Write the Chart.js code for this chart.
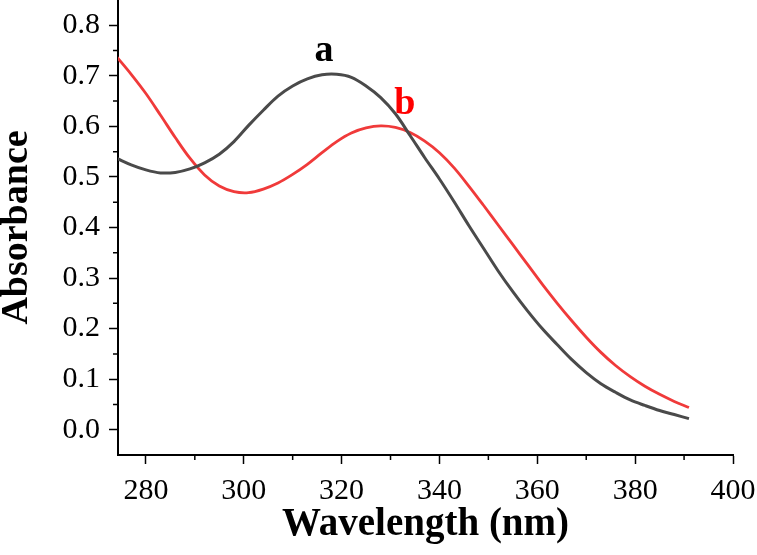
<!DOCTYPE html>
<html>
<head>
<meta charset="utf-8">
<script src="https://cdn.jsdelivr.net/npm/chart.js@4.4.1/dist/chart.umd.min.js"></script>
<style>
    html, body { margin: 0; padding: 0; background: #ffffff; }
    #wrap { width: 757px; height: 555px; position: relative; }
</style>
</head>
<body>
<div id="wrap"><canvas id="spectrumChart"></canvas></div>
<script>
// Wavelength (nm) and absorbance
const wavelengths = [274, 277, 280, 283, 286, 289, 292, 295, 298, 301, 304, 307, 310, 313, 316, 319,
    322, 325, 328, 331, 334, 337, 340, 343, 346, 349, 352, 355, 358, 361, 364, 367, 370, 373, 376,
    379, 382, 385, 388, 391];
const absorbanceA = [0.537, 0.524, 0.514, 0.508, 0.509, 0.516, 0.528, 0.545, 0.570, 0.602, 0.632,
    0.660, 0.680, 0.694, 0.702, 0.703, 0.697, 0.680, 0.657, 0.625, 0.582, 0.538, 0.496, 0.451, 0.404,
    0.359, 0.314, 0.273, 0.235, 0.200, 0.169, 0.139, 0.113, 0.091, 0.074, 0.059, 0.048, 0.038, 0.030, 0.022];
const absorbanceB = [0.738, 0.703, 0.665, 0.622, 0.578, 0.537, 0.504, 0.482, 0.471, 0.469, 0.476,
    0.488, 0.505, 0.525, 0.548, 0.570, 0.587, 0.597, 0.601, 0.598, 0.588, 0.571, 0.548, 0.518, 0.482,
    0.444, 0.405, 0.366, 0.327, 0.288, 0.251, 0.216, 0.183, 0.153, 0.127, 0.105, 0.086, 0.070, 0.056, 0.044];

// Axis ticks
const xTicks = [280, 300, 320, 340, 360, 380, 400];
const xMinorTicks = [290, 310, 330, 350, 370, 390];
const yTicks = [0.0, 0.1, 0.2, 0.3, 0.4, 0.5, 0.6, 0.7, 0.8];
const yMinorTicks = [0.05, 0.15, 0.25, 0.35, 0.45, 0.55, 0.65, 0.75];

// Curve labels
const curveLabels = [
    { text: 'a', x: 316.4, y: 0.729, color: '#000000' },
    { text: 'b', x: 332.9, y: 0.624, color: '#ff0000' }
];

const serif = "'Liberation Serif', 'Times New Roman', serif";
Chart.defaults.font.family = serif;
Chart.defaults.color = '#000000';

// Short minor ticks and the "a" / "b" labels
const extrasPlugin = {
    id: 'extras',
    afterDraw(chart) {
        const { ctx, scales: { x, y }, chartArea } = chart;
        ctx.save();
        ctx.strokeStyle = '#000000';
        ctx.lineWidth = 1.5;
        ctx.beginPath();
        xMinorTicks.forEach(v => {
            const px = x.getPixelForValue(v);
            ctx.moveTo(px, chartArea.bottom);
            ctx.lineTo(px, chartArea.bottom + 5);
        });
        yMinorTicks.forEach(v => {
            const py = y.getPixelForValue(v);
            ctx.moveTo(chartArea.left, py);
            ctx.lineTo(chartArea.left - 5, py);
        });
        ctx.stroke();

        ctx.font = 'bold 38px ' + serif;
        ctx.textAlign = 'center';
        ctx.textBaseline = 'alphabetic';
        curveLabels.forEach(l => {
            ctx.fillStyle = l.color;
            ctx.fillText(l.text, x.getPixelForValue(l.x), y.getPixelForValue(l.y));
        });
        ctx.restore();
    }
};

const ctx = document.getElementById('spectrumChart');

new Chart(ctx, {
    type: 'line',
    data: {
        labels: wavelengths,
        datasets: [
            {
                label: 'a',
                data: wavelengths.map((w, i) => ({ x: w, y: absorbanceA[i] })),
                borderColor: '#4a4a4a',
                borderWidth: 3,
                pointRadius: 0,
                tension: 0.35,
                fill: false
            },
            {
                label: 'b',
                data: wavelengths.map((w, i) => ({ x: w, y: absorbanceB[i] })),
                borderColor: '#f03a3a',
                borderWidth: 2.8,
                pointRadius: 0,
                tension: 0.35,
                fill: false
            }
        ]
    },
    options: {
        responsive: true,
        maintainAspectRatio: false,
        animation: false,
        layout: {
            padding: { left: 0, right: 24, top: 0, bottom: 0 }
        },
        plugins: {
            legend: { display: false },
            tooltip: { enabled: false }
        },
        scales: {
            x: {
                type: 'linear',
                min: 274.3,
                max: 400,
                afterBuildTicks: s => { s.ticks = xTicks.map(v => ({ value: v })); },
                afterFit: s => { s.height = 100; s.paddingLeft = 0; s.paddingRight = 0; },
                border: { display: true, color: '#000000', width: 2 },
                grid: {
                    drawOnChartArea: false,
                    drawTicks: true,
                    tickLength: 9,
                    tickColor: '#000000',
                    tickWidth: 1.5
                },
                ticks: {
                    color: '#000000',
                    padding: 9,
                    maxRotation: 0,
                    font: { size: 30, family: serif },
                    callback: v => String(v)
                },
                title: {
                    display: true,
                    text: 'Wavelength (nm)',
                    color: '#000000',
                    font: { size: 39, weight: 'bold', family: serif },
                    padding: { top: 0, bottom: 7 }
                }
            },
            y: {
                type: 'linear',
                min: -0.05,
                max: 0.85,
                afterBuildTicks: s => { s.ticks = yTicks.map(v => ({ value: v })); },
                afterFit: s => { s.width = 118; s.paddingTop = 0; s.paddingBottom = 0; },
                border: { display: true, color: '#000000', width: 2 },
                grid: {
                    drawOnChartArea: false,
                    drawTicks: true,
                    tickLength: 9,
                    tickColor: '#000000',
                    tickWidth: 1.5
                },
                ticks: {
                    color: '#000000',
                    padding: 9,
                    font: { size: 30, family: serif },
                    callback: v => Number(v).toFixed(1)
                },
                title: {
                    display: true,
                    text: 'Absorbance',
                    color: '#000000',
                    font: { size: 38, weight: 'bold', family: serif, lineHeight: 0.9 },
                    padding: { top: 0, bottom: 0 }
                }
            }
        }
    },
    plugins: [extrasPlugin]
});
</script>
</body>
</html>
